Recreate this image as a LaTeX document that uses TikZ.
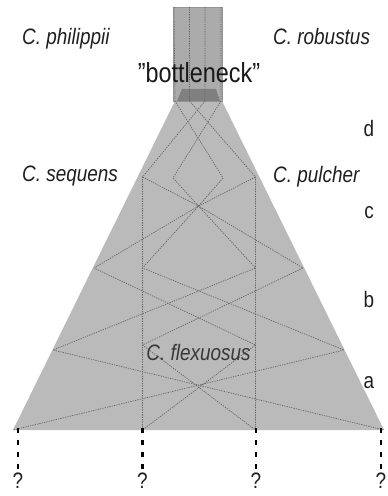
\documentclass[tikz,border=0pt]{standalone}
\usepackage{fontspec}
\setmainfont{Liberation Sans}
\newcommand{\vstr}[1]{\scalebox{1}[1.18]{#1}}
\begin{document}
\begin{tikzpicture}[x=1bp,y=-1bp,
  lineage/.style={draw=black!60, line width=0.7bp, dash pattern=on 1.3bp off 1.1bp, line join=round},
  qline/.style={draw=black, line width=2.6bp, dash pattern=on 5bp off 7bp},
  lab/.style={inner sep=0pt, text=black!88, font=\fontsize{19}{22}\selectfont\itshape},
  lev/.style={inner sep=0pt, text=black!88, font=\fontsize{19}{22}\selectfont, anchor=base},
  qm/.style={inner sep=0pt, text=black!88, font=\fontsize{19}{22}\selectfont, anchor=base}]
\useasboundingbox (0,0) rectangle (387,496);
% coordinates
\coordinate (BL) at (13,430);
\coordinate (BR) at (384,430);
\coordinate (TL) at (175,101);
\coordinate (TR) at (222,101);
% lineage tops in the bottleneck
\coordinate (U1) at (174,7);
\coordinate (U2) at (189.5,7);
\coordinate (U3) at (205,7);
\coordinate (U4) at (221,7);
\coordinate (T1) at (175,101);
\coordinate (T2) at (189.5,101);
\coordinate (T3) at (205,101);
\coordinate (T4) at (221,101);
% level d / c
\coordinate (V1t) at (142.5,177);
\coordinate (V2t) at (255.5,177);
\coordinate (DL) at (173,178);
\coordinate (DR) at (223,178);
\coordinate (DB) at (198.5,206);
% level b
\coordinate (Lb) at (94,268);
\coordinate (Rb) at (303,268);
\coordinate (V1b) at (142.5,268);
\coordinate (V2b) at (255.5,268);
% level a
\coordinate (La) at (53,350);
\coordinate (Ra) at (344,350);
\coordinate (V1a) at (142.5,345);
\coordinate (V2a) at (255.5,345);
% base
\coordinate (B1) at (142.5,430);
\coordinate (B2) at (255.5,430);
% shapes
\fill[black!27] (BL) -- (TL) -- (TR) -- (BR) -- cycle;
\filldraw[fill=black!33, draw=black!42, line width=0.5bp] (173.5,7) rectangle (222.5,101);
\fill[black!50] (182,89) -- (216,89) -- (220,101) -- (177,101) -- cycle;
% lineages
\draw[lineage] (U1) -- (T1) -- (DR) -- (DB) -- (V1b) -- (Ra) -- (BL);
\draw[lineage] (U4) -- (T4) -- (DL) -- (DB) -- (V2b) -- (La) -- (BR);
\draw[lineage] (U2) -- (T2) -- (V2t) -- (B2);
\draw[lineage] (V2t) -- (DB) -- (Lb) -- (V2a) -- (B1);
\draw[lineage] (U3) -- (T3) -- (V1t) -- (B1);
\draw[lineage] (V1t) -- (DB) -- (Rb) -- (V1a) -- (B2);
% bottom dashed lines
\coordinate (P1) at (18,428);
\coordinate (P2) at (142.5,428);
\coordinate (P3) at (256,428);
\coordinate (P4) at (381,428);
\coordinate (Q1) at (18,474);
\coordinate (Q2) at (142.5,474);
\coordinate (Q3) at (256,474);
\coordinate (Q4) at (381,474);
\draw[qline] (P1) -- (Q1);
\draw[qline] (P2) -- (Q2);
\draw[qline] (P3) -- (Q3);
\draw[qline] (P4) -- (Q4);
\node[qm] (q1) at (18,488) {\vstr{?}};
\node[qm] (q2) at (142.5,488) {\vstr{?}};
\node[qm] (q3) at (256,488) {\vstr{?}};
\node[qm] (q4) at (381,488) {\vstr{?}};
% labels
\node[lab, anchor=base west] (phil) at (22,45) {\vstr{C. philippii}};
\node[lab, anchor=base west] (robu) at (273,45) {\vstr{C. robustus}};
\node[lab, anchor=base west] (sequ) at (22,182) {\vstr{C. sequens}};
\node[lab, anchor=base west] (pulc) at (273,183) {\vstr{C. pulcher}};
\node[lab, anchor=base, text=black!78] (flex) at (198.5,360) {\vstr{C. flexuosus}};
\node[inner sep=0pt, anchor=base, text=black!90, font=\fontsize{23.5}{27}\selectfont] (bneck) at (199,83) {\vstr{\symbol{34}bottleneck\symbol{34}}};
\node[lev] (ld) at (369,137) {\vstr{d}};
\node[lev] (lc) at (369,218) {\vstr{c}};
\node[lev] (lb) at (369,307) {\vstr{b}};
\node[lev] (la) at (369,388) {\vstr{a}};
\end{tikzpicture}
\end{document}
